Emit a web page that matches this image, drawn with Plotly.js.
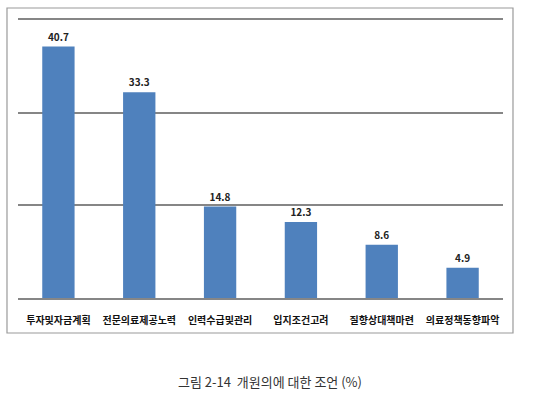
<!DOCTYPE html>
<html>
<head>
<meta charset="utf-8">
<script src="https://cdn.plot.ly/plotly-3.0.1.min.js"></script>
<style>html,body{margin:0;padding:0;background:#fff;}#chart{width:540px;height:394px;}</style>
</head>
<body>
<div id="chart"></div>
<script>
const categories = ["투자및자금계획", "전문의료제공노력", "인력수급및관리", "입지조건고려", "질향상대책마련", "의료정책동향파악"];
const values = [40.7, 33.3, 14.8, 12.3, 8.6, 4.9];
const valueLabels = ["40.7", "33.3", "14.8", "12.3", "8.6", "4.9"];
const caption = "그림 2-14  개원의에 대한 조언 (%)";

const font = "'Noto Sans CJK KR', 'Noto Sans', sans-serif";

const trace = {
  type: "bar",
  x: categories,
  y: values,
  text: valueLabels,
  textposition: "outside",
  cliponaxis: false,
  textfont: {family: font, size: 10, color: "#222", weight: "bold"},
  marker: {color: "#4F81BD"},
  width: 0.4,
  hoverinfo: "none"
};

const layout = {
  width: 540, height: 394,
  margin: {l: 18, r: 37, t: 20, b: 96},
  paper_bgcolor: "#fff", plot_bgcolor: "#fff",
  showlegend: false,
  font: {family: font},
  xaxis: {
    type: "category",
    showgrid: false, zeroline: false,
    showline: true, mirror: "all", linecolor: "#868686", linewidth: 2,
    ticks: "",
    ticklabelstandoff: 12,
    tickfont: {family: font, size: 10, color: "#111", weight: "bold"},
    tickangle: 0
  },
  yaxis: {
    range: [0, 45], dtick: 15, tick0: 0,
    showgrid: true, gridcolor: "#868686", gridwidth: 2,
    zeroline: false,
    showticklabels: false, ticks: "", showline: false
  },
  shapes: [{
    type: "rect", xref: "paper", yref: "paper", layer: "above",
    x0: -0.0227, x1: 1.0206, y0: -0.1259, y1: 1.0432,
    line: {color: "#9a9a9a", width: 1.2}
  }],
  annotations: [{
    text: caption, xref: "paper", yref: "paper",
    x: 0.5196, y: -0.2986, showarrow: false,
    xanchor: "center", yanchor: "middle",
    font: {family: font, size: 13, color: "#333"}
  }]
};

Plotly.newPlot("chart", [trace], layout, {displayModeBar: false, staticPlot: true});
</script>
</body>
</html>
